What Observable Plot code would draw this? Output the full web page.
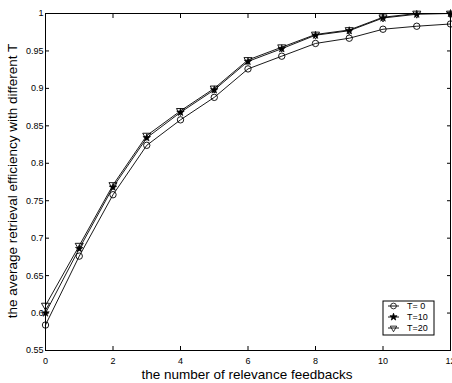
<!DOCTYPE html>
<html>
<head>
<meta charset="utf-8">
<script src="https://cdn.jsdelivr.net/npm/d3@7"></script>
<script src="https://cdn.jsdelivr.net/npm/@observablehq/plot@0.6"></script>
<style>
  html, body { margin: 0; padding: 0; background: #fff; }
  svg { display: block; }
</style>
</head>
<body>
<div id="chart"></div>
<script>
const feedbacks = [0, 1, 2, 3, 4, 5, 6, 7, 8, 9, 10, 11, 12];
const t0  = [0.584, 0.676, 0.758, 0.824, 0.858, 0.888, 0.926, 0.943, 0.960, 0.967, 0.979, 0.983, 0.986];
const t10 = [0.600, 0.686, 0.768, 0.834, 0.868, 0.898, 0.936, 0.953, 0.971, 0.977, 0.994, 0.999, 1.000];
const t20 = [0.610, 0.690, 0.771, 0.837, 0.870, 0.900, 0.938, 0.955, 0.972, 0.978, 0.995, 1.000, 1.000];
const seriesNames = ["T= 0", "T=10", "T=20"];
const xTicks = [0, 2, 4, 6, 8, 10, 12];
const yTicks = [0.55, 0.6, 0.65, 0.7, 0.75, 0.8, 0.85, 0.9, 0.95, 1];
const xLabel = "the number of relevance feedbacks";
const yLabel = "the average retrieval efficiency with different T";

const rows = (vals, name) => feedbacks.map((f, i) => ({x: f, y: vals[i], s: name}));
const d0 = rows(t0, seriesNames[0]);
const d10 = rows(t10, seriesNames[1]);
const d20 = rows(t20, seriesNames[2]);

const font = "'Liberation Sans', Arial, Helvetica, sans-serif";

const chart = Plot.plot({
  width: 452,
  height: 383,
  marginLeft: 45,
  marginRight: 2,
  marginTop: 13,
  marginBottom: 33,
  style: {fontFamily: font, fontSize: "9px", color: "#000", background: "#fff", overflow: "hidden"},
  x: {domain: [0, 12]},
  y: {domain: [0.55, 1]},
  marks: [
    Plot.frame({stroke: "#000", strokeWidth: 1}),
    Plot.axisX({anchor: "bottom", ticks: xTicks, tickSize: -4, tickPadding: 11, tickFormat: d => String(d), label: null, fontSize: 9}),
    Plot.axisX({anchor: "top", ticks: xTicks, tickSize: -4, tickFormat: () => "", label: null}),
    Plot.axisY({anchor: "left", ticks: yTicks, tickSize: -4, tickPadding: 6, tickFormat: d => String(+d.toFixed(2)), label: null, fontSize: 9}),
    Plot.axisY({anchor: "right", ticks: yTicks, tickSize: -4, tickFormat: () => "", label: null}),
    Plot.line(d0, {x: "x", y: "y", stroke: "#000", strokeWidth: 0.9}),
    Plot.line(d10, {x: "x", y: "y", stroke: "#000", strokeWidth: 0.9}),
    Plot.line(d20, {x: "x", y: "y", stroke: "#000", strokeWidth: 0.9}),
    Plot.dot(d0, {x: "x", y: "y", symbol: "circle", r: 3.2, stroke: "#000", fill: "none", strokeWidth: 0.9}),
    Plot.dot(d10, {x: "x", y: "y", symbol: "star", r: 2.4, stroke: "#000", fill: "#000", strokeWidth: 0.6}),
    Plot.dot(d20, {x: "x", y: "y", symbol: "triangle", r: 3, rotate: 180, stroke: "#000", fill: "none", strokeWidth: 0.9})
  ]
});

document.getElementById("chart").appendChild(chart);

// axis titles and legend overlay
const svg = d3.select(chart);
svg.append("text")
  .attr("x", 247).attr("y", 379)
  .attr("text-anchor", "middle")
  .style("font-family", font).style("font-size", "13.5px").attr("fill", "#000")
  .text(xLabel);
svg.append("text")
  .attr("transform", "translate(17,181) rotate(-90)")
  .attr("text-anchor", "middle")
  .style("font-family", font).style("font-size", "13.5px").attr("fill", "#000")
  .text(yLabel);

const lg = svg.append("g").style("font-family", font).style("font-size", "9px").attr("text-anchor", "start");
lg.append("rect").attr("x", 383).attr("y", 301).attr("width", 51).attr("height", 34)
  .attr("fill", "#fff").attr("stroke", "#000").attr("stroke-width", 1);
const symbols = [d3.symbolCircle, d3.symbolStar, d3.symbolTriangle];
const fills = ["none", "#000", "none"];
const rots = [0, 0, 180];
const sizes = [26, 16, 18];
seriesNames.forEach((name, i) => {
  const yy = 306 + i * 11;
  lg.append("line").attr("x1", 388).attr("x2", 399).attr("y1", yy).attr("y2", yy)
    .attr("stroke", "#000").attr("stroke-width", 0.9);
  lg.append("path").attr("d", d3.symbol(symbols[i], sizes[i])())
    .attr("transform", `translate(393.5,${yy}) rotate(${rots[i]})`)
    .attr("fill", fills[i]).attr("stroke", "#000").attr("stroke-width", 0.8);
  lg.append("text").attr("x", 407).attr("y", yy).attr("dy", "0.35em").attr("text-anchor", "start").attr("fill", "#000").text(name);
});
</script>
</body>
</html>
